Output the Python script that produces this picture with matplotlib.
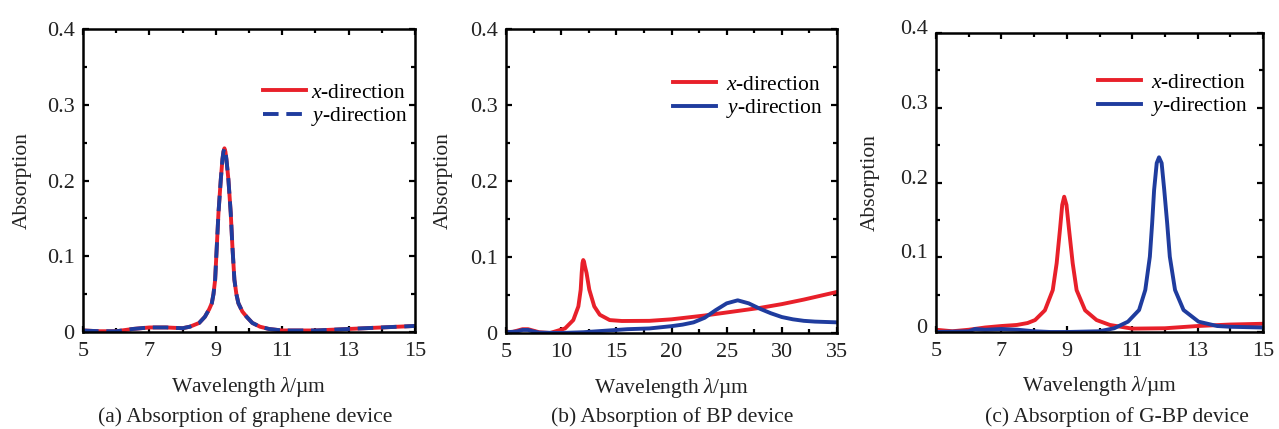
import matplotlib
matplotlib.use("Agg")
import matplotlib.pyplot as plt
from matplotlib.ticker import MultipleLocator, FixedLocator
from matplotlib.transforms import ScaledTranslation

plt.rcParams['font.family'] = ['Liberation Serif', 'DejaVu Serif']
plt.rcParams['mathtext.fontset'] = 'custom'
plt.rcParams['mathtext.rm'] = 'Liberation Serif'
plt.rcParams['mathtext.it'] = 'Liberation Serif:italic'

RED = '#e8202a'
BLUE = '#1f3c9e'

# (a) graphene device (x and y identical)
a_wl = [5.0, 5.5, 6.0, 6.5, 7.0, 7.5, 8.0, 8.22, 8.5, 8.67, 8.8, 8.88, 8.93, 8.98,
        9.03, 9.08, 9.15, 9.2, 9.23, 9.26, 9.29, 9.32, 9.38, 9.45, 9.50, 9.56, 9.62,
        9.68, 9.8, 9.93, 10.1, 10.33, 10.6, 11.0, 12.0, 13.0, 14.0, 15.0]
a_abs = [0.002, 0.001, 0.001, 0.004, 0.006, 0.006, 0.005, 0.007, 0.012, 0.020, 0.030,
         0.038, 0.050, 0.069, 0.113, 0.157, 0.201, 0.228, 0.238, 0.2425, 0.238, 0.228,
         0.201, 0.157, 0.113, 0.069, 0.050, 0.038, 0.027, 0.020, 0.012, 0.007, 0.004,
         0.002, 0.002, 0.004, 0.006, 0.008]

# (b) BP device
b_x_wl = [5.0, 5.5, 6.0, 6.5, 7.0, 7.5, 8.0, 9.0, 9.45, 10.35, 11.1, 11.56, 11.77,
          11.86, 11.93, 12.0, 12.07, 12.15, 12.3, 12.55, 13.0, 13.5, 14.4, 15.5, 18.0,
          20.0, 23.0, 25.0, 28.0, 30.0, 32.0, 35.0]
b_x_abs = [0.002, 0.001, 0.003, 0.005, 0.005, 0.003, 0.001, 0.000, 0.002, 0.006,
           0.017, 0.035, 0.057, 0.079, 0.092, 0.096, 0.094, 0.088, 0.079, 0.057,
           0.035, 0.024, 0.017, 0.0158, 0.016, 0.018, 0.023, 0.027, 0.033, 0.038,
           0.044, 0.054]
b_y_wl = [5.0, 6.0, 6.5, 7.0, 7.5, 8.0, 10.0, 12.0, 14.0, 16.0, 18.0, 20.0, 21.0,
          22.0, 23.0, 24.0, 25.0, 26.0, 27.0, 28.0, 29.0, 30.0, 31.0, 32.0, 33.0, 35.0]
b_y_abs = [0.001, 0.002, 0.004, 0.004, 0.002, 0.0005, 0.000, 0.001, 0.003, 0.005,
           0.006, 0.009, 0.011, 0.014, 0.020, 0.030, 0.039, 0.043, 0.039, 0.032,
           0.026, 0.021, 0.018, 0.016, 0.015, 0.014]

# (c) G-BP device
c_x_wl = [5.0, 5.5, 6.0, 6.5, 7.0, 7.47, 7.8, 8.03, 8.33, 8.57, 8.69, 8.79, 8.86,
          8.92, 8.99, 9.07, 9.18, 9.30, 9.56, 9.91, 10.32, 11.0, 12.0, 13.0, 14.0, 15.0]
c_x_abs = [0.003, 0.001, 0.003, 0.006, 0.008, 0.0094, 0.012, 0.016, 0.029, 0.056,
           0.092, 0.1365, 0.170, 0.181, 0.170, 0.1365, 0.092, 0.056, 0.029, 0.016,
           0.0094, 0.0045, 0.005, 0.008, 0.010, 0.011]
c_y_wl = [5.0, 6.0, 6.2, 6.5, 7.0, 7.5, 8.0, 8.5, 9.0, 10.0, 10.45, 10.87, 11.21,
          11.40, 11.54, 11.61, 11.67, 11.75, 11.82, 11.90, 11.98, 12.07, 12.15, 12.31,
          12.57, 13.03, 13.6, 14.0, 15.0]
c_y_abs = [0.000, 0.001, 0.004, 0.003, 0.004, 0.003, 0.001, 0.000, 0.000, 0.001,
           0.005, 0.0138, 0.0294, 0.0562, 0.1008, 0.1454, 0.190, 0.226, 0.2337, 0.226,
           0.190, 0.1454, 0.1008, 0.0562, 0.0294, 0.0138, 0.008, 0.007, 0.006]

a_xticks = [5, 7, 9, 11, 13, 15]
b_xticks = [5, 10, 15, 20, 25, 30, 35]
c_xticks = [5, 7, 9, 11, 13, 15]
y_ticks = [0, 0.1, 0.2, 0.3, 0.4]
y_ticklabels = ['0', '0.1', '0.2', '0.3', '0.4']

captions = ['(a) Absorption of graphene device', '(b) Absorption of BP device',
            '(c) Absorption of G-BP device']

W, H = 1279, 429
fig = plt.figure(figsize=(W / 100, H / 100), dpi=100)


def px_axes(l, r, t, b):
    return fig.add_axes([l / W, (H - b) / H, (r - l) / W, (b - t) / H])


def style(ax, xlim, xticks, xmin):
    ax.set_xlim(*xlim)
    ax.set_ylim(0, 0.4)
    ax.xaxis.set_major_locator(FixedLocator(xticks))
    ax.xaxis.set_minor_locator(MultipleLocator(xmin))
    ax.set_xticklabels([str(t) for t in xticks])
    ax.set_yticks(y_ticks)
    ax.set_yticklabels(y_ticklabels)
    ax.yaxis.set_minor_locator(MultipleLocator(0.05))
    ax.tick_params(which='both', direction='in', top=True, right=True,
                   width=1.6, labelsize=16, colors='black')
    ax.tick_params(which='major', length=4.5)
    ax.tick_params(which='minor', length=3)
    ax.tick_params(axis='x', pad=7)
    ax.tick_params(axis='y', pad=6)
    for lab in ax.get_xticklabels() + ax.get_yticklabels():
        lab.set_color('#222222')
    for s in ax.spines.values():
        s.set_linewidth(1.8)
        s.set_color('black')
    ax.set_xlabel('Wavelength $\\lambda$/µm', fontsize=15.5, color='#222222')
    ax.set_ylabel('Absorption', fontsize=15.5, color='#222222')
    ax.xaxis.set_label_coords(0.5, -0.18)
    ax.xaxis.label.set_va('center')
    ax.yaxis.label.set_va('center')


lw = 2.8
leg_kw = dict(loc='center left', frameon=False, fontsize=15.5, handlelength=2.0,
              borderpad=0, borderaxespad=0, labelspacing=0.1)

ax1 = px_axes(83, 415, 29, 332)
ax1.plot(a_wl, a_abs, color=RED, lw=lw, label='$x$-direction')
ax1.plot(a_wl, a_abs, color=BLUE, lw=lw, ls=(0, (4.0, 2.0)), label='$y$-direction')
style(ax1, (5, 15), a_xticks, 1)
ax1.yaxis.set_label_coords(-0.184, 0.5)
ax1.legend(bbox_to_anchor=(0.542, 0.7475), handletextpad=0.25, **leg_kw)

ax2 = px_axes(506, 837, 29, 333)
ax2.plot(b_x_wl, b_x_abs, color=RED, lw=lw, label='$x$-direction')
ax2.plot(b_y_wl, b_y_abs, color=BLUE, lw=lw, label='$y$-direction')
style(ax2, (5, 35), b_xticks, 2.5)
ax2.yaxis.set_label_coords(-0.19, 0.5)
ax2.legend(bbox_to_anchor=(0.5045, 0.7747), handletextpad=0.45, **leg_kw)

ax3 = px_axes(936, 1263, 33, 332)
ax3.plot(c_x_wl, c_x_abs, color=RED, lw=lw, label='$x$-direction')
ax3.plot(c_y_wl, c_y_abs, color=BLUE, lw=lw, label='$y$-direction')
style(ax3, (5, 15), c_xticks, 1)
ax3.yaxis.set_label_coords(-0.2, 0.5)
ax3.legend(bbox_to_anchor=(0.4954, 0.791), handletextpad=0.45, **leg_kw)
# y tick labels of panel (c) sit slightly above their ticks in the reference
shift = ScaledTranslation(0, 6 / 100, fig.dpi_scale_trans)
for lab in ax3.get_yticklabels():
    lab.set_transform(lab.get_transform() + shift)

for cx, txt in zip([245, 672, 1117], captions):
    fig.text(cx / W, (H - 417) / H, txt, ha='center', va='center', fontsize=15.5,
             color='#222222')

fig.savefig('out.png', dpi=100, facecolor='white')
